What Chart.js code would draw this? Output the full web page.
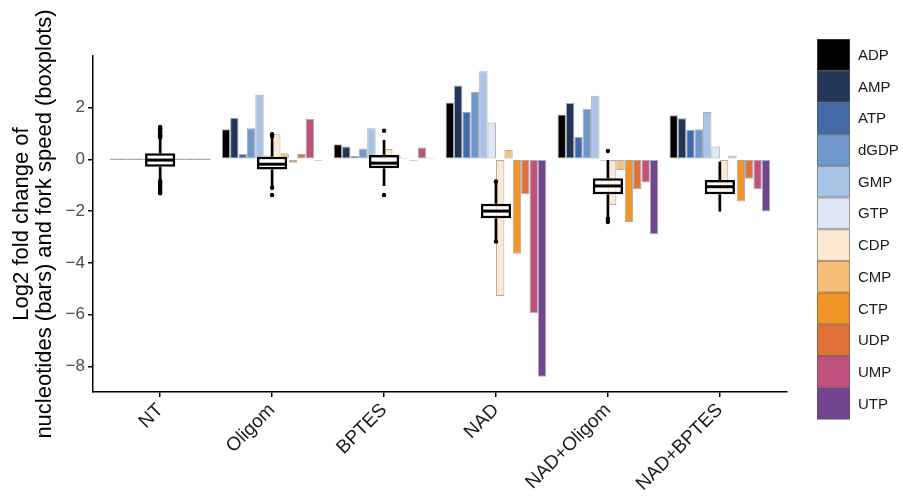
<!DOCTYPE html>
<html>
<head>
<meta charset="utf-8">
<script src="https://cdn.jsdelivr.net/npm/chart.js@4"></script>
<style>
  body { margin: 0; background: #fff; }
</style>
</head>
<body>
<canvas id="nucChart" width="903" height="504"></canvas>
<script>
// conditions (x axis)
const conditions = ['NT', 'Oligom', 'BPTES', 'NAD', 'NAD+Oligom', 'NAD+BPTES'];

// nucleotides (bar series) and their colours
const nucleotides = ['ADP', 'AMP', 'ATP', 'dGDP', 'GMP', 'GTP', 'CDP', 'CMP', 'CTP', 'UDP', 'UMP', 'UTP'];
const colors = ['#000000', '#22365a', '#4468a8', '#7098cc', '#a9c3e7', '#dde7f6',
                '#fde8d2', '#f8be78', '#f29526', '#e07139', '#c0517f', '#73448f'];

// log2 fold change of each nucleotide, one value per condition
const ADP  = [0, 1.16, 0.58,  2.19,  1.73,  1.70];
const AMP  = [0, 1.60, 0.49,  2.85,  2.17,  1.59];
const ATP  = [0, 0.20, 0.13,  1.84,  0.87,  1.14];
const dGDP = [0, 1.20, 0.42,  2.60,  1.95,  1.16];
const GMP  = [0, 2.49, 1.20,  3.40,  2.45,  1.83];
const GTP  = [0, 0.15, 0.10,  1.42, -0.04,  0.49];
const CDP  = [0, 0.97, 0.40, -5.28, -1.77, -1.30];
const CMP  = [0, 0.23, 0.12,  0.36, -0.41,  0.15];
const CTP  = [0, -0.13, 0.04, -3.65, -2.42, -1.63];
const UDP  = [0, 0.20, -0.03, -1.35, -1.16, -0.75];
const UMP  = [0, 1.56, 0.46, -5.95, -0.90, -1.16];
const UTP  = [0, -0.06, 0.04, -8.40, -2.90, -2.02];
const barValues = [ADP, AMP, ATP, dGDP, GMP, GTP, CDP, CMP, CTP, UDP, UMP, UTP];

// fork speed boxplots
const boxQ1       = [-0.29, -0.39, -0.35, -2.28, -1.35, -1.35];
const boxMedian   = [-0.03, -0.19, -0.15, -2.00, -1.03, -1.06];
const boxQ3       = [ 0.23,  0.10,  0.17, -1.72, -0.73, -0.80];
const whiskerLow  = [-0.80, -1.05, -1.03, -3.12, -2.24, -2.02];
const whiskerHigh = [ 0.80,  0.85,  0.75, -0.90, -0.03, -0.09];
const outliers = [
  ['NT', 0.83], ['NT', 0.88], ['NT', 0.92], ['NT', 0.97], ['NT', 1.04], ['NT', 1.09],
  ['NT', 1.15], ['NT', 1.20], ['NT', 1.25],
  ['NT', -0.84], ['NT', -0.89], ['NT', -0.95], ['NT', -1.02], ['NT', -1.07],
  ['NT', -1.14], ['NT', -1.20], ['NT', -1.26], ['NT', -1.31],
  ['Oligom', 0.90], ['Oligom', 0.97], ['Oligom', -1.10], ['Oligom', -1.38],
  ['BPTES', 1.10], ['BPTES', -1.38],
  ['NAD', -0.86], ['NAD', -3.18],
  ['NAD+Oligom', 0.32], ['NAD+Oligom', -2.30], ['NAD+Oligom', -2.42]
];

// y axis ticks
const yTicks = [-8, -6, -4, -2, 0, 2];

const fontFamily = '"Liberation Sans", Arial, sans-serif';
const xIndex = conditions.map((c, i) => i);

// bars
const datasets = nucleotides.map((name, i) => ({
  type: 'bar',
  label: name,
  data: barValues[i].map((v, j) => ({ x: j, y: v })),
  backgroundColor: colors[i],
  borderColor: 'rgba(70,70,70,0.45)',
  borderWidth: 1,
  borderSkipped: false,
  minBarLength: 1.5,
  categoryPercentage: 0.9,
  barPercentage: 1,
  order: 10
}));

// whiskers
datasets.push({
  type: 'bar',
  label: 'whiskerUp',
  data: xIndex.map(i => ({ x: i, y: [boxQ3[i], whiskerHigh[i]] })),
  backgroundColor: '#000',
  borderWidth: 0,
  grouped: false,
  categoryPercentage: 1,
  barPercentage: 0.024,
  order: 3
});
datasets.push({
  type: 'bar',
  label: 'whiskerDown',
  data: xIndex.map(i => ({ x: i, y: [whiskerLow[i], boxQ1[i]] })),
  backgroundColor: '#000',
  borderWidth: 0,
  grouped: false,
  categoryPercentage: 1,
  barPercentage: 0.024,
  order: 3
});
// box
datasets.push({
  type: 'bar',
  label: 'box',
  data: xIndex.map(i => ({ x: i, y: [boxQ1[i], boxQ3[i]] })),
  backgroundColor: 'rgba(255,255,255,0.72)',
  borderColor: '#000',
  borderWidth: 2.5,
  borderSkipped: false,
  grouped: false,
  categoryPercentage: 1,
  barPercentage: 0.27,
  order: 2
});
// median
datasets.push({
  type: 'line',
  label: 'median',
  data: xIndex.map(i => ({ x: i, y: boxMedian[i] })),
  showLine: false,
  pointStyle: 'line',
  pointRadius: 14,
  pointBorderWidth: 3,
  pointBorderColor: '#000',
  order: 1
});
// outlier points
datasets.push({
  type: 'line',
  label: 'outliers',
  data: outliers.map(o => ({ x: conditions.indexOf(o[0]), y: o[1] })),
  showLine: false,
  pointRadius: 2.2,
  pointBackgroundColor: '#000',
  pointBorderWidth: 0,
  order: 0
});

// legend on the right, drawn as stacked colour keys
const sideLegend = {
  id: 'sideLegend',
  afterDraw(chart) {
    const ctx = chart.ctx;
    const boxX = 817, boxW = 33, rowH = 31.7, top = 39;
    ctx.save();
    ctx.font = '15px ' + fontFamily;
    ctx.textBaseline = 'middle';
    nucleotides.forEach((name, i) => {
      const y = top + i * rowH;
      ctx.fillStyle = colors[i];
      ctx.fillRect(boxX, y, boxW, rowH);
      ctx.strokeStyle = 'rgba(90,90,90,0.55)';
      ctx.lineWidth = 1;
      ctx.strokeRect(boxX + 0.5, y + 0.5, boxW - 1, rowH - 1);
      ctx.fillStyle = '#1a1a1a';
      ctx.fillText(name, 858, y + rowH / 2 + 1);
    });
    ctx.restore();
  }
};

const ctx = document.getElementById('nucChart').getContext('2d');
new Chart(ctx, {
  data: { datasets: datasets },
  plugins: [sideLegend],
  options: {
    responsive: false,
    animation: false,
    events: [],
    layout: { padding: { left: 0, right: 116, top: 56, bottom: 0 } },
    plugins: {
      legend: { display: false },
      tooltip: { enabled: false }
    },
    scales: {
      x: {
        type: 'linear',
        min: -0.6,
        max: 5.6,
        offset: false,
        afterBuildTicks: (scale) => { scale.ticks = xIndex.map(v => ({ value: v })); },
        grid: { display: true, drawOnChartArea: false, offset: false, color: '#000', tickLength: 5, lineWidth: 1.5 },
        border: { display: true, color: '#000', width: 1.5 },
        ticks: {
          autoSkip: false, minRotation: 45, maxRotation: 45, padding: 2,
          color: '#1a1a1a', font: { size: 19, family: fontFamily },
          callback: (v) => conditions[v]
        },
        afterFit: (scale) => { scale.height = 112; }
      },
      y: {
        min: -8.99,
        max: 3.99,
        afterBuildTicks: (scale) => { scale.ticks = yTicks.map(v => ({ value: v })); },
        grid: { display: true, drawOnChartArea: false, color: '#000', tickLength: 5, lineWidth: 1.5 },
        border: { display: true, color: '#000', width: 1.5 },
        ticks: {
          padding: 3, color: '#4d4d4d', font: { size: 17, family: fontFamily },
          callback: (v) => v < 0 ? '\u2212' + Math.abs(v) : String(v)
        },
        title: {
          display: true,
          text: ['Log2 fold change of', 'nucleotides (bars) and fork speed (boxplots)'],
          color: '#000',
          font: { size: 22, family: fontFamily, lineHeight: 1.05 },
          padding: { top: 10, bottom: 0 }
        },
        afterFit: (scale) => { scale.width = 93; }
      }
    }
  }
});
</script>
</body>
</html>
